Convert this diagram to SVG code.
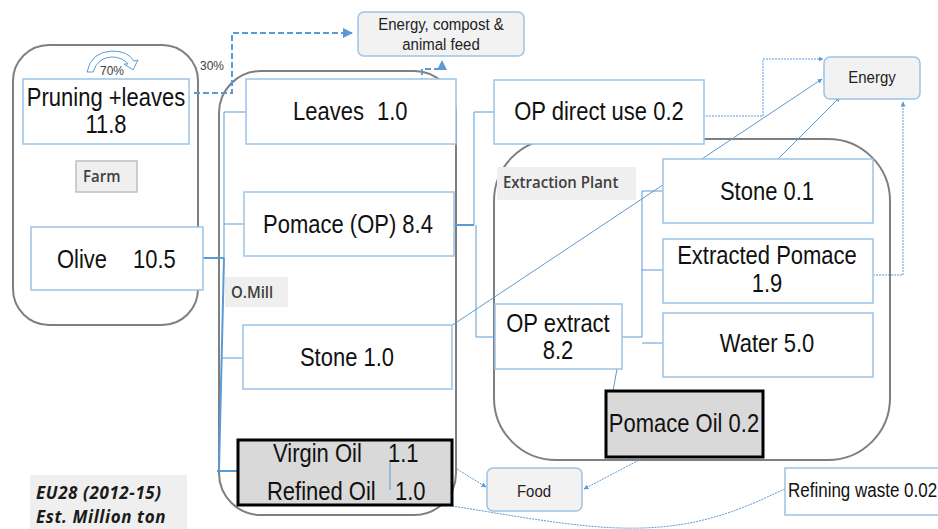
<svg xmlns="http://www.w3.org/2000/svg" width="938" height="529" viewBox="0 0 938 529">
<defs>
<marker id="ah" viewBox="0 0 10 10" refX="9" refY="5" markerWidth="5" markerHeight="5" orient="auto-start-reverse">
<path d="M0,0 L10,5 L0,10 z" fill="#5b9bd5"/>
</marker>
<style>
.cont{fill:none;stroke:#7f7f7f;stroke-width:2}
.box{fill:#fff;stroke:#9dc3e6;stroke-width:1.5}
.dark{fill:#d9d9d9;stroke:#000;stroke-width:3}
.out{fill:#f2f2f2;stroke:#9dc3e6;stroke-width:1.5}
.lab{fill:#efefef;stroke:none}
.farmlab{fill:#efefef;stroke:#bfbfbf;stroke-width:1.5}
.c{fill:none;stroke:#5b9bd5;stroke-width:1}
.ct{fill:none;stroke:#5b9bd5;stroke-width:2}
.dash{fill:none;stroke:#5b9bd5;stroke-width:2;stroke-dasharray:6 3}
.dot{fill:none;stroke:#5b9bd5;stroke-width:1;stroke-dasharray:2 1}
.t{font-family:"Liberation Sans",Arial,sans-serif;font-size:22px;fill:#111}
.s{font-family:"Liberation Sans",Arial,sans-serif;font-size:15px;fill:#222}
.m{font-family:"Liberation Sans",Arial,sans-serif;font-size:17px;fill:#111}
.p{font-family:"Liberation Sans",Arial,sans-serif;font-size:12px;fill:#404040}
.b{font-family:"Open Sans","Liberation Sans",sans-serif;font-size:15px;font-weight:600;fill:#404040}
.eu{font-family:"Open Sans","Liberation Sans",sans-serif;font-size:17px;font-weight:700;font-style:italic;letter-spacing:0.6px;fill:#1a1a1a}
.mid{text-anchor:middle}
</style>
</defs>

<g id="containers">
<rect id="farm-container" class="cont" x="13" y="45" width="185" height="280" rx="36"/>
<rect id="omill-container" class="cont" x="219" y="71" width="237" height="444" rx="42"/>
<rect id="extraction-container" class="cont" x="494" y="139" width="396" height="321" rx="62"/>
</g>

<g id="connectors">
<path class="dash" d="M194,93 H232 V33 H352" marker-end="url(#ah)"/>
<path class="dash" d="M422,84 V69 H442 V61" marker-end="url(#ah)"/>
<path class="ct" d="M203,258 H224"/>
<path class="c" d="M224,258 V112 H246"/>
<path class="c" d="M224,224 H244"/>
<path class="ct" d="M224,258 L219,470"/>
<path class="c" d="M222,358 H243"/>
<path class="ct" d="M217,471 H238"/>
<path class="ct" d="M454,225 H474"/>
<path class="c" d="M474,225 V112 H494"/>
<path class="c" d="M476,225 V337 H495"/>
<path class="c" d="M622,337 H642 V191 H663"/>
<path class="c" d="M642,270 H663"/>
<path class="c" d="M642,343 H663"/>
<path class="c" d="M617,369 L613,391"/>
<path class="dot" d="M697,116 H763 V59 H823" marker-end="url(#ah)"/>
<path class="c" d="M448,328 L822,79" marker-end="url(#ah)"/>
<path class="c" d="M778,159 L840,97" marker-end="url(#ah)"/>
<path class="dot" d="M873,275 H903 V102" marker-end="url(#ah)"/>
<path class="dot" d="M457,469 L486,487" marker-end="url(#ah)"/>
<path class="dot" d="M641,459 L584,489" marker-end="url(#ah)"/>
<path class="dot" d="M452,506 C540,520 600,532 660,527 C720,522 760,500 787,488"/>
<path fill="#fff" stroke="#5b9bd5" stroke-width="1" d="M87,72 Q91,52 112,51 Q128,51 134,61 L138,60 L133,70 L124,64 L128,64 Q122,57 112,57 Q98,57 93,72 Z"/>
</g>

<g id="farm-label"><rect class="farmlab" x="76" y="161" width="61" height="31"/><text class="b" transform="translate(0 182) scale(1 1.1)" x="83" y="0">Farm</text></g>
<g id="omill-label"><rect class="lab" x="225" y="277" width="63" height="30"/><text class="b" transform="translate(0 298) scale(1 1.1)" x="231" y="0">O.Mill</text></g>
<g id="extraction-label"><rect class="lab" x="497" y="167" width="139" height="33"/><text class="b" transform="translate(0 188) scale(1 1.1)" x="503" y="0">Extraction Plant</text></g>

<g id="pruning">
<rect class="box" x="23" y="79" width="166" height="65"/>
<text class="t mid" transform="translate(0 106) scale(1 1.2)" x="106" y="0">Pruning +leaves</text>
<text class="t mid" transform="translate(0 133) scale(1 1.2)" x="106" y="0">11.8</text>
</g>
<g id="pct70"><text class="p" transform="translate(0 75) scale(1 1.1)" x="100" y="0">70%</text></g>
<g id="pct30"><text class="p" transform="translate(0 70) scale(1 1.1)" x="200" y="0">30%</text></g>
<g id="olive">
<rect class="box" x="31" y="227" width="172" height="63"/>
<text class="t" transform="translate(0 268) scale(1 1.2)" y="0"><tspan x="57">Olive</tspan><tspan x="133">10.5</tspan></text>
</g>

<g id="energy-compost">
<rect class="out" x="358" y="12" width="166" height="44" rx="6"/>
<text class="s mid" transform="translate(0 30) scale(1 1.1)" x="441" y="0">Energy, compost &amp;</text>
<text class="s mid" transform="translate(0 50) scale(1 1.1)" x="441" y="0">animal feed</text>
</g>

<g id="leaves">
<rect class="box" x="246" y="79" width="210" height="65"/>
<text class="t" transform="translate(0 120) scale(1 1.2)" y="0"><tspan x="293">Leaves</tspan><tspan x="377">1.0</tspan></text>
</g>
<g id="pomace">
<rect class="box" x="244" y="192" width="210" height="64"/>
<text class="t mid" transform="translate(0 233) scale(1 1.2)" x="348" y="0">Pomace (OP) 8.4</text>
</g>
<g id="stone-mill">
<rect class="box" x="243" y="325" width="209" height="64"/>
<text class="t mid" transform="translate(0 366) scale(1 1.2)" x="347" y="0">Stone 1.0</text>
</g>
<g id="oil">
<rect class="dark" x="238" y="440" width="214" height="65"/>
<path class="c" d="M390,460 V490"/>
<text class="t" transform="translate(0 462) scale(1 1.2)" y="0"><tspan x="273">Virgin Oil</tspan><tspan x="388">1.1</tspan></text>
<text class="t" transform="translate(0 500) scale(1 1.2)" y="0"><tspan x="267">Refined Oil</tspan><tspan x="395">1.0</tspan></text>
</g>

<g id="op-direct">
<rect class="box" x="494" y="80" width="210" height="64"/>
<text class="t mid" transform="translate(0 120) scale(1 1.2)" x="599" y="0">OP direct use 0.2</text>
</g>
<g id="energy">
<rect class="out" x="824" y="57" width="96" height="42" rx="6"/>
<text class="s mid" transform="translate(0 83) scale(1 1.1)" x="872" y="0">Energy</text>
</g>
<g id="stone-ext">
<rect class="box" x="663" y="159" width="210" height="64"/>
<text class="t mid" transform="translate(0 200) scale(1 1.2)" x="767" y="0">Stone 0.1</text>
</g>
<g id="extracted-pomace">
<rect class="box" x="663" y="239" width="210" height="64"/>
<text class="t mid" transform="translate(0 264) scale(1 1.2)" x="767" y="0">Extracted Pomace</text>
<text class="t mid" transform="translate(0 292) scale(1 1.2)" x="767" y="0">1.9</text>
</g>
<g id="water">
<rect class="box" x="663" y="313" width="210" height="64"/>
<text class="t mid" transform="translate(0 352) scale(1 1.2)" x="767" y="0">Water 5.0</text>
</g>
<g id="op-extract">
<rect class="box" x="495" y="304" width="127" height="65"/>
<text class="t mid" transform="translate(0 332) scale(1 1.2)" x="558" y="0">OP extract</text>
<text class="t mid" transform="translate(0 359) scale(1 1.2)" x="558" y="0">8.2</text>
</g>
<g id="pomace-oil">
<rect class="dark" x="606" y="391" width="157" height="66"/>
<text class="t mid" transform="translate(0 432) scale(1 1.2)" x="684" y="0">Pomace Oil 0.2</text>
</g>
<g id="food">
<rect class="out" x="487" y="468" width="95" height="43" rx="6"/>
<text class="s mid" transform="translate(0 497) scale(1 1.1)" x="534" y="0">Food</text>
</g>
<g id="refining-waste">
<rect class="box" x="785" y="468" width="160" height="47"/>
<text class="m" transform="translate(0 497) scale(1 1.15)" x="788" y="0">Refining waste 0.02</text>
</g>
<g id="legend">
<rect class="lab" x="30" y="475" width="157" height="54"/>
<text class="eu" x="36" y="499">EU28 (2012-15)</text>
<text class="eu" x="36" y="523">Est. Million ton</text>
</g>
</svg>
